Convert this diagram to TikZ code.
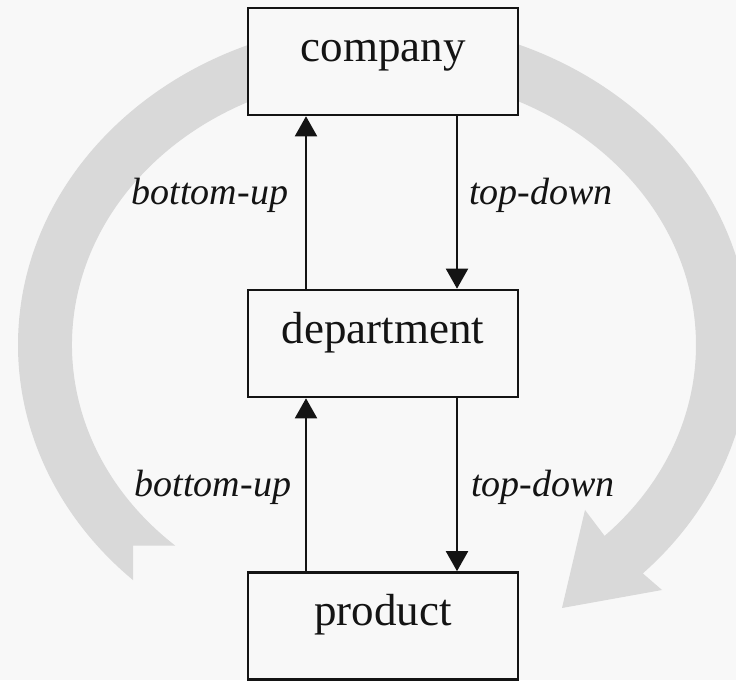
\documentclass[tikz,border=0pt]{standalone}
\usepackage{fontspec}
\setmainfont{Liberation Serif}
\usetikzlibrary{arrows.meta}
\definecolor{bgcol}{HTML}{F8F8F8}
\definecolor{bandcol}{HTML}{D9D9D9}
\definecolor{inkcol}{HTML}{141414}
\tikzset{
  levelbox/.style={draw=inkcol, line width=2.6pt, fill=bgcol, minimum width=270pt,
    minimum height=107pt, inner sep=0pt, text=inkcol,
    font=\fontsize{45}{54}\selectfont, text height=18pt, text depth=18pt},
  flow/.style={draw=inkcol, line width=2pt, -{Triangle[width=22pt,length=20pt]}},
  flowlabel/.style={inner sep=0pt, text=inkcol, font=\fontsize{38}{46}\selectfont\itshape},
  band/.style={fill=bandcol, draw=none}
}
\begin{document}
\begin{tikzpicture}[x=1pt,y=1pt]
  \useasboundingbox (0,0) rectangle (736,680);
  \fill[bgcol] (0,0) rectangle (736,680);

  % circular cycle arrows behind the boxes
  \begin{scope}
    \clip (0,0) rectangle (736,680);
    % left band, descending on the left side
    \fill[band] (384,658)
      arc[start angle=90, end angle=226.7, x radius=366, y radius=323]
      -- (133,134.4) -- (175.2,134.4)
      arc[start angle=228, end angle=90, x radius=312, y radius=270]
      -- cycle;
    % right band with arrowhead at the lower right
    \fill[band] (384,658)
      arc[start angle=90, end angle=-45, x radius=366, y radius=323]
      -- (662,90) -- (562,72) -- (585,170) -- (604.6,144.1)
      arc[start angle=-45, end angle=90, x radius=312, y radius=270]
      -- cycle;
  \end{scope}

  % the three levels
  \node[levelbox] (company) at (383,618.5) {company};
  \node[levelbox] (dept)    at (383,336.5) {department};
  \node[levelbox] (product) at (383,54)    {product};

  % upper pair of connectors
  \draw[flow] ([xshift=-77pt]dept.north) -- ([xshift=-77pt]company.south)
    node[flowlabel, pos=0.49, anchor=base east, xshift=-17pt] {bottom-up};
  \draw[flow] ([xshift=74pt]company.south) -- ([xshift=74pt]dept.north)
    node[flowlabel, pos=0.51, anchor=base west, xshift=11pt] {top-down};

  % lower pair of connectors
  \draw[flow] ([xshift=-77pt]product.north) -- ([xshift=-77pt]dept.south)
    node[flowlabel, pos=0.43, anchor=base east, xshift=-14pt] {bottom-up};
  \draw[flow] ([xshift=74pt]dept.south) -- ([xshift=74pt]product.north)
    node[flowlabel, pos=0.57, anchor=base west, xshift=13pt] {top-down};
\end{tikzpicture}
\end{document}
